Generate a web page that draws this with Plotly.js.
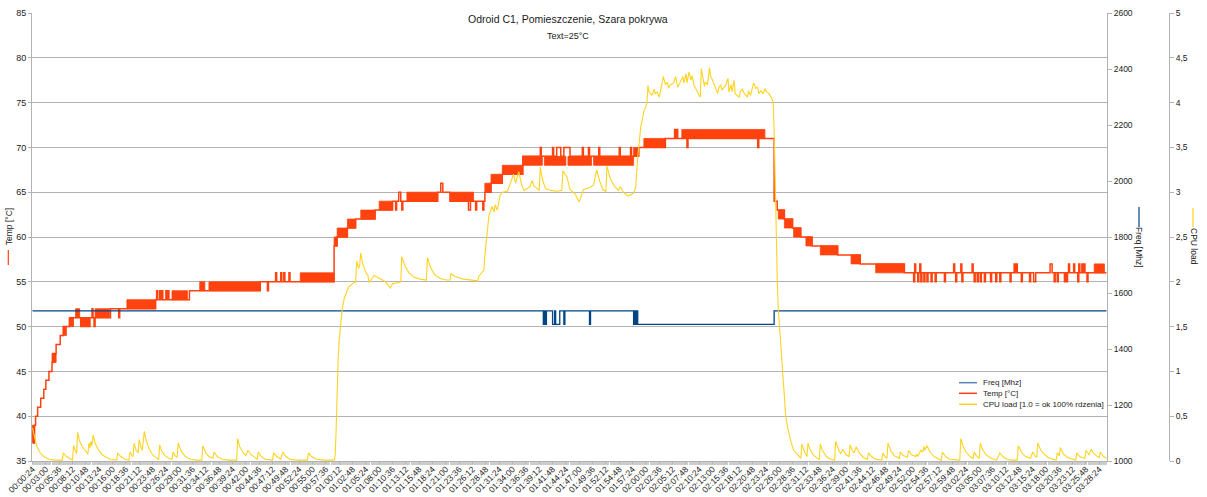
<!DOCTYPE html>
<html>
<head>
<meta charset="utf-8">
<script src="https://cdn.plot.ly/plotly-3.0.1.min.js"></script>
<style>html,body{margin:0;padding:0;background:#fff}#chart{width:1207px;height:497px}</style>
</head>
<body>
<div id="chart"></div>
<script>
// ---- Sample axis: one sample every 12 s starting at 00:00:24 ----
const sampleCount = 1048;
const startSeconds = 24;
const stepSeconds = 12;
const labelEvery = 13;

// ---- Freq [Mhz] (step changes: sample index, value) ----
const freqIdx = [0, 498, 499, 500, 501, 507, 509, 510, 514, 518, 519, 543, 544, 586, 587, 588, 589, 590, 723, 1047];
const freqVal = [1536, 1488, 1536, 1488, 1536, 1488, 1536, 1488, 1536, 1488, 1536, 1488, 1536, 1488, 1536, 1488, 1536, 1488, 1536, 1536];

// ---- Temp [°C] (step changes: sample index, value) ----
const tempIdx = [0,1,2,3,5,8,11,13,16,19,20,23,27,30,36,47,48,49,50,51,52,53,54,55,56,58,59,60,61,76,84,85,120,121,122,124,125,126,127,130,131,132,133,153,222,229,230,237,238,242,243,245,246,250,251,294,297,307,315,334,351,354,355,357,359,360,361,395,398,400,407,425,427,432,433,439,440,441,447,458,478,495,496,507,508,511,515,518,524,536,537,542,543,552,553,572,573,583,584,591,617,626,627,628,629,638,639,707,708,723,726,733,741,749,760,785,807,850,859,860,861,863,864,865,866,867,869,870,872,873,876,877,880,881,889,890,898,899,900,901,905,906,907,916,917,918,919,921,922,924,925,928,929,934,935,939,940,943,944,953,954,957,958,959,960,964,965,972,973,976,978,992,994,996,997,999,1000,1006,1007,1008,1009,1010,1011,1015,1016,1019,1020,1021,1023,1024,1025,1026,1028,1029,1047];
const tempVal = [38,37,39,40,41,42,43,44,45,46,47,48,49,50,51,50,51,50,51,50,51,50,51,50,51,52,51,50,51,52,51,52,53,54,53,54,53,54,53,54,53,54,53,54,55,54,55,56,55,56,55,56,55,56,55,59,60,61,62,63,64,63,64,65,64,63,64,65,66,65,64,63,64,63,64,63,64,65,66,67,69,70,69,70,69,70,69,70,69,70,69,70,69,70,69,70,69,70,69,70,71,72,71,72,71,70,71,70,71,64,63,62,61,60,59,58,57,56,55,57,56,55,56,57,55,56,55,56,55,56,55,56,55,56,55,56,57,56,55,56,57,55,56,57,56,55,56,55,56,55,56,55,56,55,56,55,56,55,56,55,56,57,56,57,56,55,56,55,56,55,56,57,56,55,56,55,56,55,56,55,56,57,56,57,56,55,57,56,57,56,57,56,55,56,56];

// ---- Temp: stretches where the reading toggles every sample between two levels ----
const bandStart = [0, 19, 30, 36, 42, 61, 92, 136, 163, 172, 261, 294, 297, 307, 320, 338, 365, 407, 441, 447, 458, 478, 499, 522, 547, 586, 596, 633, 727, 733, 742, 754, 768, 798, 822, 1035];
const bandEnd   = [2, 23, 33, 40, 46, 75, 120, 151, 168, 222, 294, 297, 307, 315, 334, 351, 395, 430, 447, 458, 478, 497, 520, 545, 586, 591, 617, 714, 733, 741, 749, 760, 785, 807, 850, 1045];
const bandLow   = [37, 46, 49, 50, 51, 51, 52, 53, 54, 54, 55, 59, 60, 61, 62, 63, 64, 64, 65, 66, 67, 68, 68, 68, 68, 69, 70, 71, 62, 61, 60, 59, 58, 57, 56, 56];
const bandHigh  = [39, 47, 50, 51, 52, 52, 53, 54, 55, 55, 56, 60, 61, 62, 63, 64, 65, 65, 66, 67, 68, 69, 69, 69, 69, 70, 71, 72, 63, 62, 61, 60, 59, 58, 57, 57];

// ---- CPU load (sample index, value) ----
const cpuIdx = [0,2,4,7,11,16,22,29,30,33,37,39,40,42,43,44,46,49,52,54,55,56,57,58,59,61,64,68,72,76,82,83,86,90,94,95,97,98,99,101,103,104,106,107,109,111,114,117,120,123,124,126,129,133,136,137,139,141,142,145,149,154,160,165,166,169,172,176,177,180,185,192,199,200,202,205,208,210,213,217,219,220,223,227,234,235,238,242,244,247,251,258,268,269,272,277,285,294,295,296,297,298,299,300,302,304,308,312,315,316,318,319,320,322,325,327,328,330,333,338,344,349,351,356,359,360,363,367,372,378,384,385,388,392,397,403,407,408,412,420,430,434,435,438,440,441,443,445,448,450,451,453,456,458,463,466,469,471,474,477,479,485,487,489,494,495,497,500,505,512,516,517,521,524,529,533,535,537,543,547,550,553,556,559,560,563,567,571,573,576,580,583,586,588,590,593,596,599,600,601,604,606,607,609,611,615,617,619,620,622,625,627,629,632,634,635,637,638,640,642,643,645,648,651,652,655,656,658,660,661,663,666,668,669,671,672,676,678,679,681,682,684,685,689,690,692,694,697,698,700,703,705,707,708,710,712,714,716,718,721,722,723,724,725,726,727,729,731,733,734,736,739,742,746,749,750,752,755,756,758,761,764,767,768,770,774,778,782,783,786,788,790,793,796,797,799,801,803,806,810,814,815,818,822,828,829,831,833,834,837,840,845,846,849,853,854,857,861,862,863,866,868,869,870,872,875,879,884,886,887,890,894,900,904,905,907,910,914,917,918,920,923,924,926,929,933,937,940,943,946,950,955,960,961,964,968,973,975,977,979,980,983,986,990,995,998,999,1001,1002,1005,1009,1014,1017,1018,1021,1023,1026,1027,1030,1032,1035,1038,1040,1041,1044,1047];
const cpuVal = [0.37,0.25,0.17,0.1,0.05,0.02,0.01,0.01,0.09,0.05,0.02,0.01,0.17,0.1,0.08,0.32,0.22,0.15,0.1,0.08,0.2,0.15,0.22,0.17,0.29,0.2,0.13,0.07,0.04,0.02,0.01,0.09,0.05,0.02,0.01,0.1,0.06,0.05,0.2,0.12,0.09,0.24,0.14,0.12,0.33,0.22,0.13,0.07,0.04,0.02,0.18,0.11,0.06,0.03,0.02,0.1,0.06,0.04,0.2,0.11,0.05,0.02,0.01,0.01,0.17,0.09,0.05,0.03,0.1,0.05,0.02,0.01,0.01,0.25,0.16,0.1,0.06,0.12,0.07,0.03,0.02,0.1,0.05,0.02,0.01,0.09,0.05,0.02,0.1,0.05,0.02,0.01,0.01,0.09,0.05,0.02,0.01,0.01,0.05,0.35,0.8,1.15,1.35,1.46,1.7,1.82,1.94,1.98,2.0,2.23,2.15,2.19,2.32,2.2,2.1,2.07,1.99,2.02,2.07,2.04,2.0,1.93,1.98,1.99,2.0,2.28,2.18,2.1,2.05,2.03,2.02,2.27,2.16,2.08,2.04,2.02,2.02,2.09,2.06,2.03,2.01,2.01,2.06,2.11,2.13,2.3,2.55,2.74,2.84,2.78,2.86,2.8,2.97,3.0,3.01,3.1,3.2,3.1,3.23,3.08,3.02,3.06,3.13,3.07,3.02,3.28,3.15,3.04,3.02,3.01,3.02,3.24,3.17,3.03,2.98,2.89,2.95,3.03,3.05,3.08,3.25,3.12,3.03,3.01,3.29,3.16,3.07,3.02,3.06,3.0,2.96,2.97,2.99,3.05,3.39,3.73,3.9,3.99,4.19,4.12,4.08,4.15,4.1,4.12,4.06,4.29,4.2,4.23,4.16,4.2,4.22,4.29,4.17,4.25,4.29,4.22,4.32,4.22,4.34,4.25,4.3,4.19,4.12,4.06,4.38,4.18,4.23,4.2,4.39,4.3,4.25,4.17,4.1,4.17,4.2,4.14,4.2,4.27,4.12,4.2,4.12,4.25,4.1,4.06,4.12,4.15,4.1,4.06,4.13,4.08,4.22,4.16,4.17,4.1,4.13,4.1,4.15,4.12,4.1,4.04,4.0,3.7,3.0,2.6,2.05,1.7,1.4,1.05,0.72,0.53,0.38,0.23,0.12,0.07,0.03,0.19,0.12,0.05,0.2,0.13,0.07,0.04,0.02,0.19,0.12,0.05,0.02,0.01,0.22,0.12,0.08,0.13,0.07,0.05,0.18,0.12,0.09,0.16,0.09,0.04,0.02,0.09,0.05,0.02,0.01,0.09,0.05,0.03,0.2,0.11,0.06,0.03,0.1,0.06,0.04,0.12,0.07,0.05,0.08,0.05,0.12,0.1,0.16,0.12,0.17,0.1,0.05,0.02,0.01,0.1,0.05,0.02,0.01,0.01,0.25,0.17,0.1,0.05,0.03,0.1,0.06,0.03,0.2,0.13,0.08,0.04,0.02,0.01,0.09,0.05,0.02,0.01,0.01,0.17,0.1,0.05,0.03,0.1,0.06,0.04,0.2,0.12,0.08,0.04,0.02,0.01,0.09,0.06,0.15,0.08,0.04,0.02,0.01,0.09,0.05,0.04,0.03,0.12,0.07,0.13,0.08,0.05,0.04,0.1,0.05,0.03];

// ---- CPU axis tick labels (decimal comma) ----
const cpuTickVals = [0, 0.5, 1, 1.5, 2, 2.5, 3, 3.5, 4, 4.5, 5];
const cpuTickText = ['0', '0,5', '1', '1,5', '2', '2,5', '3', '3,5', '4', '4,5', '5'];

function hms(sec) {
  const h = Math.floor(sec / 3600), m = Math.floor((sec % 3600) / 60), s = sec % 60;
  const p = v => String(v).padStart(2, '0');
  return p(h) + ':' + p(m) + ':' + p(s);
}
const categories = [];
for (let i = 0; i < sampleCount; i++) categories.push(hms(startSeconds + stepSeconds * i));
const tickVals = [], tickText = [];
for (let i = 0; i < sampleCount; i += labelEvery) { tickVals.push(i); tickText.push(categories[i]); }

// band polygons
const bx = [], by = [];
for (let k = 0; k < bandStart.length; k++) {
  bx.push(bandStart[k], bandEnd[k], bandEnd[k], bandStart[k], bandStart[k], null);
  by.push(bandLow[k], bandLow[k], bandHigh[k], bandHigh[k], bandLow[k], null);
}

const C_FREQ = '#004586', C_TEMP = '#ff420e', C_CPU = '#ffd320';
const FONT = 'Liberation Sans, Arial, sans-serif';

const traces = [
  {x: freqIdx, y: freqVal, yaxis: 'y2', mode: 'lines', line: {shape: 'hv', color: C_FREQ, width: 1.3}, name: 'Freq [Mhz]', hoverinfo: 'skip'},
  {x: bx, y: by, yaxis: 'y', mode: 'lines', fill: 'toself', fillcolor: C_TEMP, line: {color: C_TEMP, width: 0.8}, name: 'Temp band', hoverinfo: 'skip'},
  {x: tempIdx, y: tempVal, yaxis: 'y', mode: 'lines', line: {shape: 'hv', color: C_TEMP, width: 1.5}, name: 'Temp [°C]', hoverinfo: 'skip'},
  {x: cpuIdx, y: cpuVal, yaxis: 'y3', mode: 'lines', line: {color: C_CPU, width: 1.1}, name: 'CPU load [1.0 = ok 100% rdzenia]', hoverinfo: 'skip'}
];

const txt = '#222222';
const ann = (text, x, y, size, extra) => Object.assign({text, x, y, xref: 'paper', yref: 'paper', showarrow: false, xanchor: 'center', yanchor: 'middle', font: {family: FONT, size, color: txt}}, extra || {});
const vline = (x, y0, y1, color) => ({type: 'line', xref: 'paper', yref: 'paper', x0: x, x1: x, y0, y1, line: {color, width: 1.2}});
const hline = (x0, x1, y, color) => ({type: 'line', xref: 'paper', yref: 'paper', x0, x1, y0: y, y1: y, line: {color, width: 1.5}});

const layout = {
  width: 1207, height: 497,
  margin: {l: 32, r: 30, t: 13, b: 36, pad: 0},
  paper_bgcolor: '#ffffff', plot_bgcolor: '#ffffff',
  showlegend: false,
  font: {family: FONT, color: txt},
  xaxis: {
    domain: [0, 0.93886], range: [-0.5, sampleCount - 0.5],
    tickmode: 'array', tickvals: tickVals, ticktext: tickText, tickangle: -45,
    tickfont: {family: FONT, size: 8.5, color: txt},
    ticks: 'outside', ticklen: 2, tickcolor: '#b3b3b3', ticklabelstandoff: -3,
    minor: {tickmode: 'linear', tick0: 0, dtick: 1, ticks: 'outside', ticklen: 3, tickcolor: '#cccccc', showgrid: false},
    showline: true, linecolor: '#b3b3b3', showgrid: false, zeroline: false, fixedrange: true
  },
  yaxis: {
    range: [35, 85], tickmode: 'linear', tick0: 35, dtick: 5,
    tickfont: {family: FONT, size: 9, color: txt},
    ticks: 'outside', ticklen: 3, tickcolor: '#b3b3b3',
    showgrid: true, gridcolor: '#b3b3b3', gridwidth: 1,
    showline: true, linecolor: '#b3b3b3', zeroline: false
  },
  yaxis2: {
    overlaying: 'y', side: 'right', anchor: 'x',
    range: [1000, 2600], tickmode: 'linear', tick0: 1000, dtick: 200,
    tickfont: {family: FONT, size: 8.5, color: txt},
    ticks: 'outside', ticklen: 4, tickcolor: '#b3b3b3',
    showgrid: false, showline: true, linecolor: '#b3b3b3', zeroline: false
  },
  yaxis3: {
    overlaying: 'y', side: 'right', anchor: 'free', position: 0.99301,
    range: [0, 5], tickmode: 'array', tickvals: cpuTickVals, ticktext: cpuTickText,
    tickfont: {family: FONT, size: 8.5, color: txt},
    ticks: 'outside', ticklen: 4, tickcolor: '#b3b3b3',
    showgrid: false, showline: true, linecolor: '#b3b3b3', zeroline: false
  },
  annotations: [
    ann('Odroid C1, Pomieszczenie, Szara pokrywa', 0.4681, 0.9866, 10.5),
    ann('Text=25°C', 0.4681, 0.9487, 9),
    ann('Temp [°C]', -0.0199, 0.5223, 8.5, {textangle: -90}),
    ann('Freq [Mhz]', 0.96681, 0.4754, 8.5, {textangle: 90}),
    ann('CPU load', 1.01485, 0.4799, 8.5, {textangle: 90}),
    ann('Freq [Mhz]', 0.8286, 0.1748, 8, {xanchor: 'left'}),
    ann('Temp [°C]', 0.8286, 0.1511, 8, {xanchor: 'left'}),
    ann('CPU load [1.0 = ok 100% rdzenia]', 0.8286, 0.1266, 8, {xanchor: 'left'})
  ],
  shapes: [
    vline(-0.0207, 0.4375, 0.4710, C_TEMP),
    vline(0.96681, 0.5223, 0.5670, C_FREQ),
    vline(1.01397, 0.5223, 0.5647, C_CPU),
    hline(0.8096, 0.8253, 0.1748, '#5b84b1'),
    hline(0.8096, 0.8253, 0.1511, C_TEMP),
    hline(0.8096, 0.8253, 0.1266, C_CPU)
  ]
};

Plotly.newPlot('chart', traces, layout, {staticPlot: true, displayModeBar: false});
</script>
</body>
</html>
